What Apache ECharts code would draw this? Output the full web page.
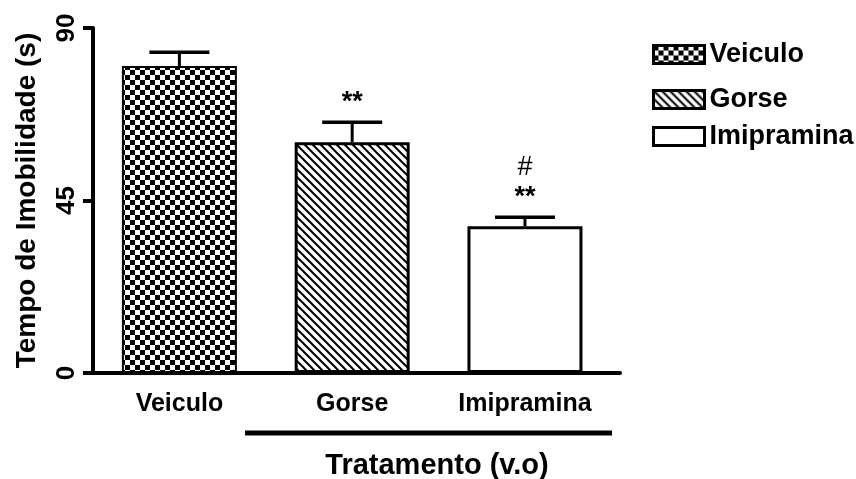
<!DOCTYPE html>
<html>
<head>
<meta charset="UTF-8" />
<title>Tempo de Imobilidade</title>
<style>
* { margin: 0; padding: 0; }
html, body { background: #fff; }
#chart { width: 856px; height: 479px; }
</style>
</head>
<body>
<div id="chart"></div>
<script src="https://cdn.jsdelivr.net/npm/echarts@6/dist/echarts.min.js"></script>
<script>
// dados
let categories = ['Veiculo', 'Gorse', 'Imipramina']
let means = [80.1, 60.2, 38.3]
let errTops = [83.7, 65.4, 40.6]
let starMarks = ['', '**', '**']
let hashMarks = ['', '', '#']
let yTicks = [0, 45, 90]
let xPos = categories.map((c, i) => i + 0.5)

let font = 'Liberation Sans, Arial, sans-serif'

function checker() {
  let c = document.createElement('canvas')
  c.width = 10
  c.height = 10
  let ctx = c.getContext('2d')
  ctx.fillStyle = '#fff'
  ctx.fillRect(0, 0, 10, 10)
  ctx.fillStyle = '#000'
  ctx.fillRect(0, 0, 5, 5)
  ctx.fillRect(5, 5, 5, 5)
  return c
}

function hatch() {
  let c = document.createElement('canvas')
  c.width = 8
  c.height = 8
  let ctx = c.getContext('2d')
  ctx.fillStyle = '#fff'
  ctx.fillRect(0, 0, 8, 8)
  ctx.strokeStyle = '#000'
  ctx.lineWidth = 2
  ctx.beginPath()
  ctx.moveTo(-2, -2); ctx.lineTo(10, 10)
  ctx.moveTo(-2, 6); ctx.lineTo(2, 10)
  ctx.moveTo(6, -2); ctx.lineTo(10, 2)
  ctx.stroke()
  return c
}

let fills = [
  { image: checker(), repeat: 'repeat' },
  { image: hatch(), repeat: 'repeat' },
  '#fff'
]

let chart = echarts.init(document.getElementById('chart'))

let barSeries = categories.map((name, i) => ({
  type: 'bar',
  name: name,
  barWidth: 115,
  barGap: '-100%',
  data: [[xPos[i], means[i]]],
  itemStyle: { color: fills[i], borderColor: '#000', borderWidth: i === 0 ? 2 : 3 },
  emphasis: { disabled: true }
}))

let errSeries = {
  type: 'custom',
  z: 3,
  silent: true,
  data: xPos.map((x, i) => [x, means[i], errTops[i]]),
  renderItem: function (params, api) {
    let base = api.coord([api.value(0), api.value(1)])
    let top = api.coord([api.value(0), api.value(2)])
    return {
      type: 'group',
      children: [
        { type: 'line', shape: { x1: base[0], y1: base[1], x2: top[0], y2: top[1] }, style: { stroke: '#000', lineWidth: 3 } },
        { type: 'line', shape: { x1: top[0] - 30, y1: top[1], x2: top[0] + 30, y2: top[1] }, style: { stroke: '#000', lineWidth: 3.5 } }
      ]
    }
  }
}

let sigSeries = {
  type: 'custom',
  z: 4,
  silent: true,
  data: xPos.map((x, i) => [x, errTops[i], i]),
  renderItem: function (params, api) {
    let top = api.coord([api.value(0), api.value(1)])
    let i = api.value(2)
    return {
      type: 'group',
      children: [
        { type: 'text', style: { text: starMarks[i], x: top[0], y: top[1] - 20, align: 'center', verticalAlign: 'middle', font: 'bold 27px ' + font, fill: '#000' } },
        { type: 'text', style: { text: hashMarks[i], x: top[0], y: top[1] - 50, align: 'center', verticalAlign: 'middle', font: '27px ' + font, fill: '#000' } }
      ]
    }
  }
}

let legendTops = [36, 81, 118]

let option = {
  backgroundColor: '#fff',
  animation: false,
  grid: { left: 93, right: 236, top: 28, bottom: 106 },
  legend: categories.map((name, i) => ({
    data: [{ name: name, icon: 'rect' }],
    left: 647,
    top: legendTops[i],
    itemWidth: 51,
    itemHeight: 18,
    selectedMode: false,
    itemStyle: { borderColor: '#000', borderWidth: 3 },
    textStyle: { fontFamily: font, fontWeight: 'bold', fontSize: 27, color: '#000' }
  })),
  xAxis: {
    type: 'value',
    min: 0,
    max: 3.05,
    interval: 0.5,
    axisLine: { show: true, onZero: false, lineStyle: { color: '#000', width: 4 } },
    axisTick: { show: false },
    splitLine: { show: false },
    axisLabel: {
      margin: 19,
      color: '#000',
      fontFamily: font,
      fontWeight: 'bold',
      fontSize: 25,
      showMaxLabel: false,
      formatter: function (v) {
        let i = v - 0.5
        return Number.isInteger(i) && categories[i] ? categories[i] : ''
      }
    }
  },
  yAxis: {
    type: 'value',
    min: yTicks[0],
    max: yTicks[yTicks.length - 1],
    interval: yTicks[1] - yTicks[0],
    name: 'Tempo de Imobilidade (s)',
    nameLocation: 'middle',
    nameGap: 52,
    nameTextStyle: { fontFamily: font, fontWeight: 'bold', fontSize: 28, color: '#000' },
    axisLine: { show: true, lineStyle: { color: '#000', width: 4 } },
    axisTick: { show: true, length: 10, lineStyle: { color: '#000', width: 4 } },
    splitLine: { show: false },
    axisLabel: {
      rotate: 90,
      margin: 13,
      color: '#000',
      fontFamily: font,
      fontWeight: 'bold',
      fontSize: 26
    }
  },
  graphic: [
    { type: 'line', shape: { x1: 245, y1: 433, x2: 612, y2: 433 }, style: { stroke: '#000', lineWidth: 5 } },
    { type: 'text', style: { text: 'Tratamento (v.o)', x: 437, y: 466, align: 'center', verticalAlign: 'middle', font: 'bold 29px ' + font, fill: '#000' } }
  ],
  series: barSeries.concat([errSeries, sigSeries])
}

chart.setOption(option)
</script>
</body>
</html>
